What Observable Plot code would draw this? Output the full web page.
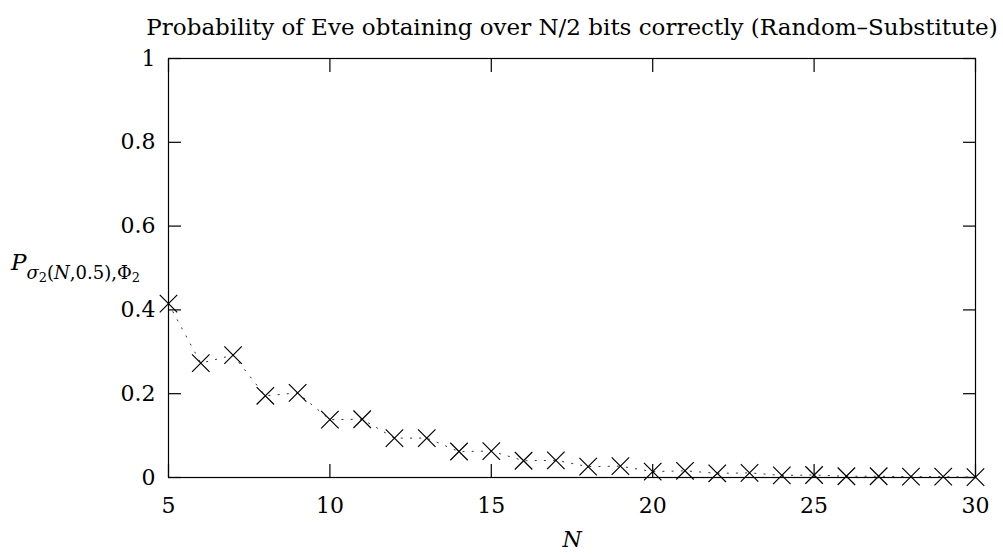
<!DOCTYPE html>
<html>
<head>
<meta charset="utf-8">
<script src="https://cdn.jsdelivr.net/npm/d3@7"></script>
<script src="https://cdn.jsdelivr.net/npm/@observablehq/plot@0.6"></script>
<style>
  html, body { margin: 0; padding: 0; background: white; }
</style>
</head>
<body>
<div id="chart"></div>
<script>
const N = [5, 6, 7, 8, 9, 10, 11, 12, 13, 14, 15, 16, 17, 18, 19, 20, 21, 22, 23, 24, 25, 26, 27, 28, 29, 30];
const P = [0.415, 0.273, 0.292, 0.195, 0.202, 0.138, 0.139, 0.094, 0.094, 0.062, 0.063, 0.040, 0.041, 0.026, 0.027,
           0.014, 0.016, 0.010, 0.011, 0.005, 0.006, 0.003, 0.003, 0.002, 0.002, 0.001];
const xTicks = [5, 10, 15, 20, 25, 30];
const yTicks = [0, 0.2, 0.4, 0.6, 0.8, 1];
const titleText = "Probability of Eve obtaining over N/2 bits correctly (Random\u2013Substitute)";
const xLabel = "N";

const data = N.map((n, i) => ({n, p: P[i]}));
const font = "'DejaVu Serif', 'Liberation Serif', serif";

const chart = Plot.plot({
  width: 1003,
  height: 556,
  marginLeft: 168,
  marginRight: 28,
  marginTop: 58,
  marginBottom: 79,
  style: {fontFamily: font, fontSize: "22px", background: "white", color: "black"},
  x: {domain: [5, 30]},
  y: {domain: [0, 1]},
  marks: [
    Plot.frame({stroke: "black", strokeWidth: 1.2}),
    Plot.axisX(xTicks, {anchor: "bottom", tickSize: -13, fill: "none", strokeWidth: 1.2}),
    Plot.axisX(xTicks, {anchor: "top", tickSize: -13, fill: "none", strokeWidth: 1.2}),
    Plot.axisY(yTicks, {anchor: "left", tickSize: -13, fill: "none", strokeWidth: 1.2}),
    Plot.axisY(yTicks, {anchor: "right", tickSize: -13, fill: "none", strokeWidth: 1.2}),
    Plot.axisX(xTicks, {anchor: "bottom", tickSize: 0, tickPadding: 20, stroke: "none", label: null,
                        fontSize: 22, tickFormat: d => `${d}`}),
    Plot.axisY(yTicks, {anchor: "left", tickSize: 0, tickPadding: 13, stroke: "none", label: null,
                        fontSize: 22, tickFormat: d => `${d}`}),
    Plot.line(data, {x: "n", y: "p", stroke: "#333", strokeWidth: 1, strokeDasharray: "1.2,8"}),
    Plot.dot(data, {x: "n", y: "p", symbol: "times", r: 8, stroke: "black", strokeWidth: 1.2}),
    Plot.text([titleText], {text: d => d, frameAnchor: "top", dy: -40, fontSize: 23, fill: "black"}),
    Plot.text([xLabel], {text: d => d, frameAnchor: "bottom", dy: 69, fontSize: 22, fontStyle: "italic", fill: "black"})
  ]
});

document.getElementById("chart").appendChild(chart);

// y-axis label with sub/sub-subscripts, as real text
const svg = d3.select(chart);
const lab = svg.append("text")
  .attr("x", 11).attr("y", 270)
  .attr("text-anchor", "start")
  .attr("font-family", font)
  .attr("fill", "black");
lab.append("tspan").attr("font-size", 23).attr("font-style", "italic").text("P");
lab.append("tspan").attr("font-size", 18).attr("font-style", "italic").attr("dy", 9).text("\u03C3");
lab.append("tspan").attr("font-size", 13).attr("dy", 3).text("2");
lab.append("tspan").attr("font-size", 18).attr("dy", -3).text("(");
lab.append("tspan").attr("font-size", 18).attr("font-style", "italic").text("N");
lab.append("tspan").attr("font-size", 18).text(",0.5),\u03A6");
lab.append("tspan").attr("font-size", 13).attr("dy", 3).text("2");
</script>
</body>
</html>
